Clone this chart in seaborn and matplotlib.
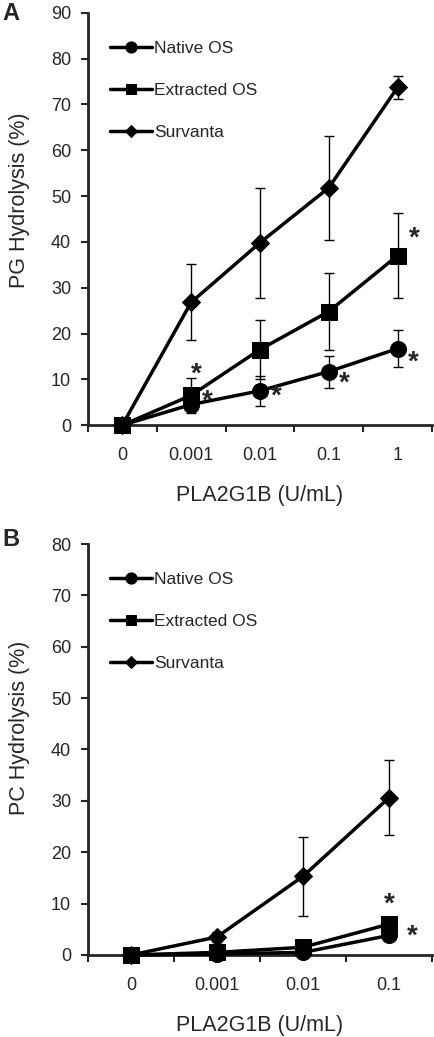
import matplotlib
matplotlib.use('Agg')
import matplotlib.pyplot as plt
import seaborn as sns
import pandas as pd
import numpy as np

sns.set_style('ticks')
plt.rcParams['font.family'] = ['Liberation Sans', 'DejaVu Sans']

# Panel A - PG hydrolysis
doses_a = ['0', '0.001', '0.01', '0.1', '1']
native_a = [0.0, 4.5, 7.5, 11.7, 16.7]
native_a_err = [0.0, 1.5, 3.3, 3.5, 4.0]
extracted_a = [0.0, 6.5, 16.5, 24.8, 37.0]
extracted_a_err = [0.0, 3.8, 6.4, 8.5, 9.3]
survanta_a = [0.0, 26.8, 39.8, 51.8, 73.7]
survanta_a_err = [0.0, 8.3, 12.0, 11.3, 2.6]

# Panel B - PC hydrolysis
doses_b = ['0', '0.001', '0.01', '0.1']
native_b = [0.0, 0.2, 0.5, 3.8]
native_b_err = [0.0, 0.2, 0.3, 0.5]
extracted_b = [0.0, 0.5, 1.5, 6.0]
extracted_b_err = [0.0, 0.3, 0.5, 0.8]
survanta_b = [0.0, 3.5, 15.3, 30.6]
survanta_b_err = [0.0, 1.0, 7.7, 7.3]

series_names = ['Native OS', 'Extracted OS', 'Survanta']
markers = {'Native OS': 'o', 'Extracted OS': 's', 'Survanta': 'D'}
msizes = {'Native OS': 11.5, 'Extracted OS': 11, 'Survanta': 9}

# significance stars: (series, dose index, offset in points)
stars_a = [('Extracted OS', 1, (4, 15)), ('Native OS', 1, (12, 2)),
           ('Native OS', 2, (12, -4)), ('Native OS', 3, (11, -9)),
           ('Native OS', 4, (11, -10)), ('Extracted OS', 4, (12, 12))]
stars_b = [('Extracted OS', 3, (0, 14)), ('Native OS', 3, (17, -1))]


def draw_panel(ax, doses, vals, errs, ymax, ylabel, label_y, stars):
    pos = np.arange(len(doses))
    df = pd.DataFrame({
        'pos': np.tile(pos, 3),
        'val': np.concatenate([vals[s] for s in series_names]),
        'series': np.repeat(series_names, len(doses)),
    })
    for s in series_names:
        ax.errorbar(pos, vals[s], yerr=errs[s], fmt='none', ecolor='black',
                    elinewidth=1, capsize=3.5, capthick=1, zorder=2)
    for s in ['Survanta', 'Native OS', 'Extracted OS']:
        sns.lineplot(data=df[df.series == s], x='pos', y='val', ax=ax,
                     color='black', marker=markers[s], markersize=msizes[s],
                     markeredgecolor='black', linewidth=2.5, label=s,
                     clip_on=False, zorder=3)
    for s, i, off in stars:
        ax.annotate('*', xy=(pos[i], vals[s][i]), xytext=off,
                    textcoords='offset points', ha='center', va='center',
                    fontsize=20, fontweight='bold')
    ax.set_xlim(-0.5, len(doses) - 0.5)
    ax.set_ylim(0, ymax)
    ax.set_yticks(np.arange(0, ymax + 1, 10))
    ax.set_xticks(pos)
    ax.set_xticklabels(doses)
    ax.set_xticks(np.arange(-0.5, len(doses), 1), minor=True)
    ax.tick_params(axis='x', which='major', length=0, pad=16, labelsize=13)
    ax.tick_params(axis='x', which='minor', length=5, width=1.5, direction='out')
    ax.tick_params(axis='y', length=5, width=1.5, direction='out', pad=7, labelsize=13)
    for side in ['left', 'bottom']:
        ax.spines[side].set_linewidth(2)
    sns.despine(ax=ax)
    ax.set_xlabel('PLA2G1B (U/mL)', fontsize=15.5, labelpad=15)
    ax.set_ylabel(ylabel, fontsize=15.5)
    ax.yaxis.set_label_coords(-0.168, label_y)
    handles, labels = ax.get_legend_handles_labels()
    order = [labels.index(n) for n in series_names]
    ax.legend([handles[k] for k in order], series_names, loc='upper left',
              bbox_to_anchor=(0.064, 0.932), frameon=False, borderpad=0,
              borderaxespad=0, handlelength=2.4, handletextpad=0.15,
              labelspacing=1.55, markerscale=0.7, fontsize=12.5)


fig = plt.figure(figsize=(4.35, 10.37), dpi=100)
ax_a = fig.add_axes([0.202, 0.590, 0.791, 0.3977])
ax_b = fig.add_axes([0.202, 0.0791, 0.791, 0.3963])

draw_panel(ax_a, doses_a,
           {'Native OS': native_a, 'Extracted OS': extracted_a, 'Survanta': survanta_a},
           {'Native OS': native_a_err, 'Extracted OS': extracted_a_err, 'Survanta': survanta_a_err},
           90, 'PG Hydrolysis (%)', 0.546, stars_a)
draw_panel(ax_b, doses_b,
           {'Native OS': native_b, 'Extracted OS': extracted_b, 'Survanta': survanta_b},
           {'Native OS': native_b_err, 'Extracted OS': extracted_b_err, 'Survanta': survanta_b_err},
           80, 'PC Hydrolysis (%)', 0.552, stars_b)

fig.text(11 / 435, 1 - 13 / 1037, 'A', fontsize=17, fontweight='bold',
         ha='center', va='center')
fig.text(11 / 435, 1 - 540 / 1037, 'B', fontsize=17, fontweight='bold',
         ha='center', va='center')

fig.savefig('out.png', dpi=100)
